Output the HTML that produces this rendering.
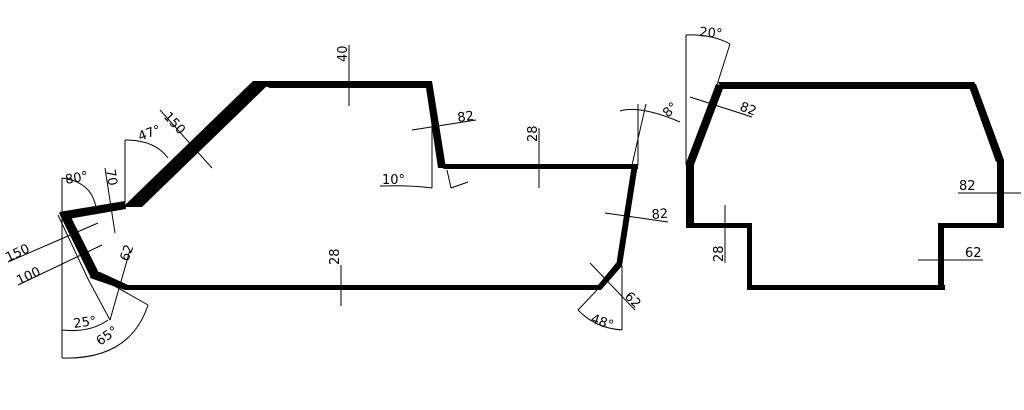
<!DOCTYPE html>
<html><head><meta charset="utf-8"><style>
html,body{margin:0;padding:0;background:#fff;}
svg{display:block;}
text{font-family:"DejaVu Sans","Liberation Sans",sans-serif;font-size:13px;fill:#000;}
</style></head><body>
<svg width="1024" height="410" viewBox="0 0 1024 410" xmlns="http://www.w3.org/2000/svg">
<g fill="#000" stroke="none">
<!-- left profile -->
<polygon points="253,81 431,81 433,88 270,88"/>
<polygon points="425,81 432,81 446,168 438,168"/>
<polygon points="438,164 638,164 638,169 444,169"/>
<polygon points="632,164 638,164 622,266 616,266"/>
<polygon points="616,263 622,266 601,290 594,290"/>
<polygon points="125,285 600,285 600,290 125,290"/>
<polygon points="92,272 100,272 128,285 125,290 90,278"/>
<polygon points="59,213 69,213 100,275 91,278"/>
<polygon points="59,212 125,201 126,209 68,219"/>
<polygon points="253,81 270,83 142,207 123,207"/>
<!-- right profile -->
<polygon points="718,82 975,82 973,89 722,89"/>
<polygon points="716,84 724,86 694,165 686,163"/>
<polygon points="686,163 694,163 694,228 686,228"/>
<polygon points="686,223 752,223 752,228 686,228"/>
<polygon points="747,223 752,223 752,290 747,290"/>
<polygon points="747,285 945,285 945,290 747,290"/>
<polygon points="938,223 944,223 944,290 938,290"/>
<polygon points="938,223 1004,223 1004,228 938,228"/>
<polygon points="997,160 1004,160 1004,228 997,228"/>
<polygon points="968,84 976,84 1004,160 996,162"/>
</g>
<g stroke="#000" stroke-width="1" fill="none">
<!-- 40 -->
<line x1="349" y1="45" x2="349" y2="106"/>
<!-- 150 top diag -->
<line x1="160" y1="110" x2="212" y2="168"/>
<!-- 47 -->
<line x1="125" y1="140" x2="125" y2="203"/>
<path d="M125,140 Q155,140 168,158"/>
<!-- 80 -->
<line x1="62" y1="178" x2="62" y2="358"/>
<path d="M62,178 Q92,182 96,208"/>
<line x1="105" y1="168" x2="115" y2="233"/>
<!-- leaders 150/100 -->
<line x1="8" y1="262" x2="98" y2="223"/>
<line x1="18" y1="285" x2="102" y2="245"/>
<line x1="58" y1="215" x2="88" y2="279"/>
<line x1="88" y1="279" x2="110" y2="320"/>
<line x1="110" y1="320" x2="130" y2="250"/>
<line x1="90" y1="272" x2="148" y2="305"/>
<path d="M62,330 Q90,333 108,320"/>
<path d="M62,358 Q130,360 148,305"/>
<!-- 28 bottom -->
<line x1="341" y1="265" x2="341" y2="306"/>
<!-- 82 / 10 top right -->
<line x1="412" y1="130" x2="476" y2="120"/>
<line x1="432" y1="88" x2="432" y2="188"/>
<path d="M380,186 Q410,185 432,188"/>
<line x1="447" y1="170" x2="451" y2="188"/>
<line x1="451" y1="188" x2="468" y2="182"/>
<!-- 28 mid -->
<line x1="539" y1="128" x2="539" y2="188"/>
<!-- 8 deg -->
<line x1="638" y1="104" x2="638" y2="165"/>
<line x1="646" y1="104" x2="632" y2="165"/>
<path d="M620,111 Q640,105 680,122"/>
<!-- 82 right -->
<line x1="605" y1="213" x2="668" y2="222"/>
<!-- 62 / 48 -->
<line x1="590" y1="263" x2="635" y2="310"/>
<line x1="622" y1="266" x2="622" y2="330"/>
<line x1="597" y1="290" x2="578" y2="310"/>
<path d="M578,310 Q595,328 622,330"/>
<!-- right shape dims -->
<line x1="686" y1="35" x2="686" y2="165"/>
<line x1="730" y1="44" x2="716" y2="88"/>
<path d="M686,35 Q712,34 730,44"/>
<line x1="690" y1="97" x2="752" y2="117"/>
<line x1="958" y1="193" x2="1021" y2="193"/>
<line x1="725" y1="205" x2="725" y2="263"/>
<line x1="918" y1="260" x2="983" y2="260"/>
</g>
<g>
<text transform="translate(347,62) rotate(-90)">40</text>
<text transform="translate(163,117) rotate(47)">150</text>
<text transform="translate(140,141) rotate(-20)">47°</text>
<text x="66" y="184" transform="rotate(-10 66 184)">80°</text>
<text transform="translate(106,170) rotate(80)">70</text>
<text transform="translate(8,262) rotate(-25)">150</text>
<text transform="translate(19,285) rotate(-25)">100</text>
<text transform="translate(128,262) rotate(-70)">62</text>
<text x="74" y="328" transform="rotate(-8 74 328)">25°</text>
<text x="100" y="346" transform="rotate(-35 100 346)">65°</text>
<text transform="translate(339,265) rotate(-90)">28</text>
<text x="458" y="122" transform="rotate(-8 458 122)">82</text>
<text x="382" y="184">10°</text>
<text transform="translate(537,142) rotate(-90)">28</text>
<text x="668" y="118" transform="rotate(-45 668 118)">8°</text>
<text x="652" y="219" transform="rotate(-5 652 219)">82</text>
<text x="624" y="297" transform="rotate(45 624 297)">62</text>
<text x="590" y="322" transform="rotate(20 590 322)">48°</text>
<text x="699" y="36" transform="rotate(5 699 36)">20°</text>
<text x="739" y="110" transform="rotate(20 739 110)">82</text>
<text x="959" y="190">82</text>
<text transform="translate(723,262) rotate(-90)">28</text>
<text x="965" y="257">62</text>
</g>
</svg>
</body></html>
